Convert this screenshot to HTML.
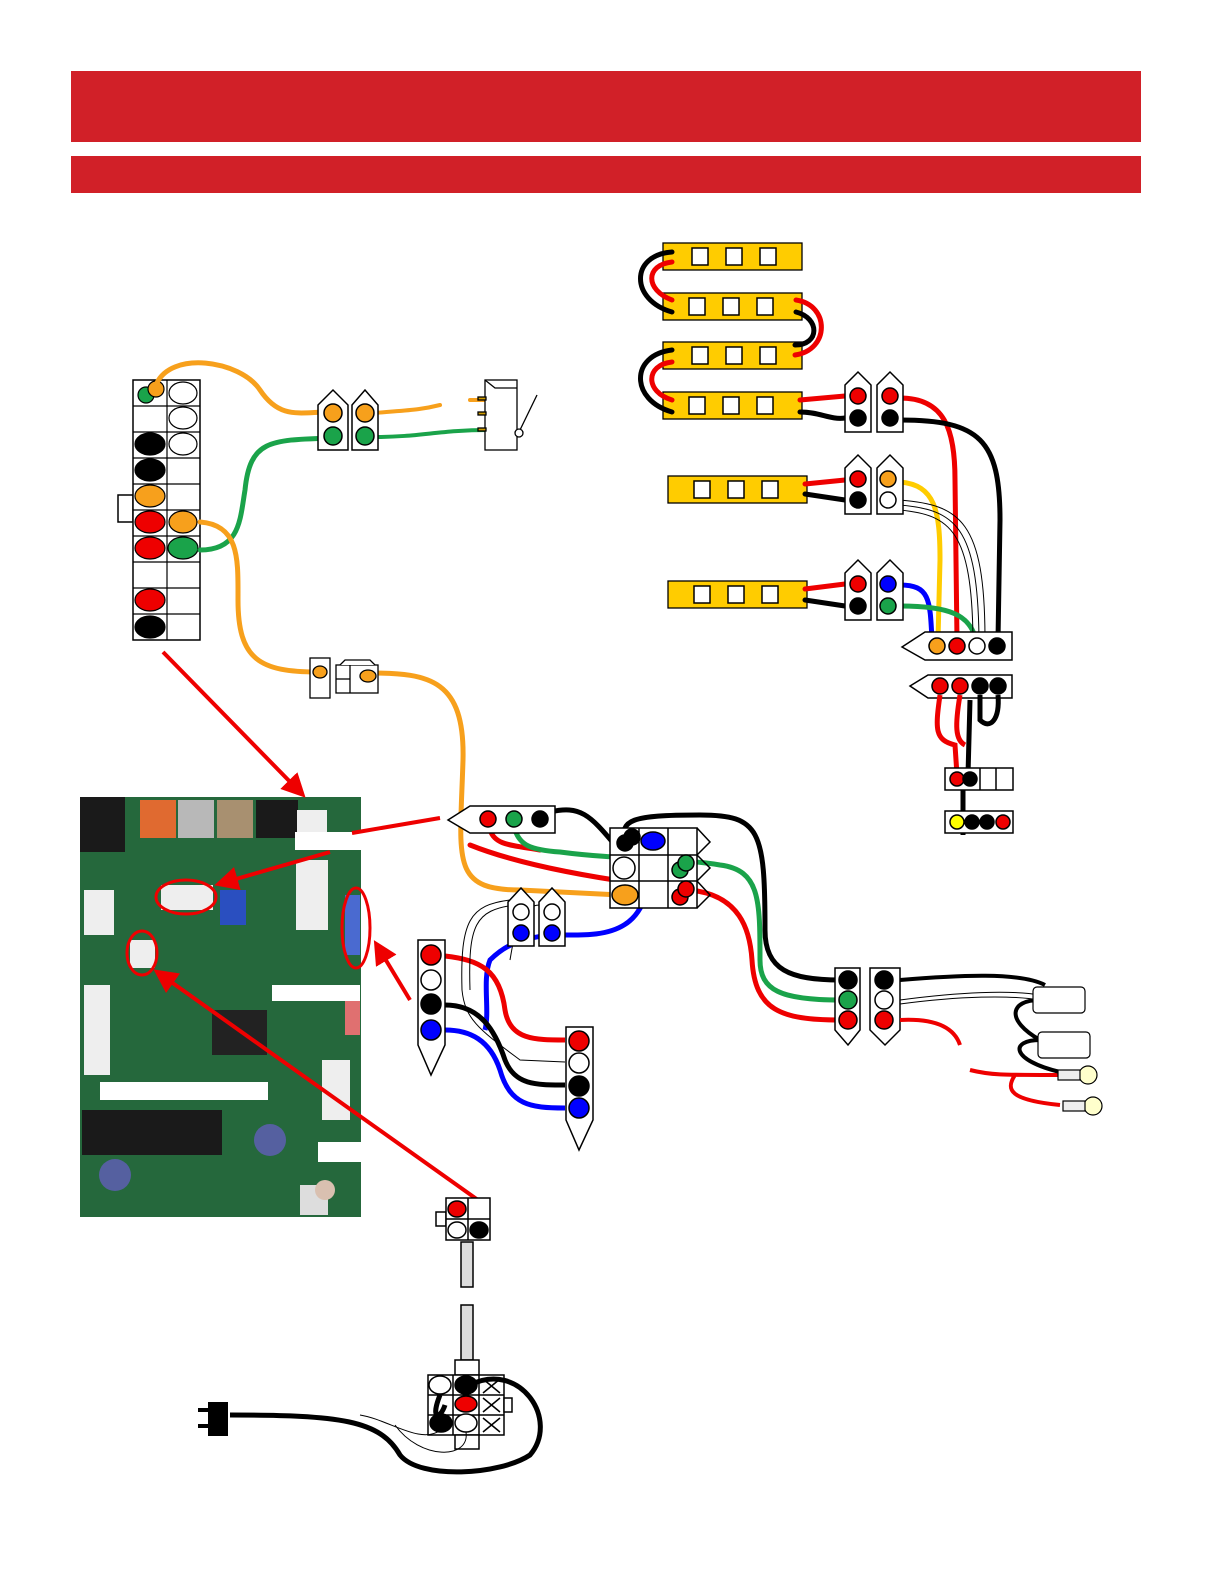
<!DOCTYPE html>
<html><head><meta charset="utf-8"><style>body{margin:0;background:#fff}svg{display:block}</style></head><body>
<svg width="1224" height="1584" viewBox="0 0 1224 1584" xmlns="http://www.w3.org/2000/svg">
<defs><marker id="ah" markerWidth="6" markerHeight="6" refX="4" refY="3" orient="auto" markerUnits="strokeWidth"><path d="M0,0 L6,3 L0,6Z" fill="#e00"/></marker></defs>
<rect x="71" y="71" width="1070" height="71" fill="#d12028"/>
<rect x="71" y="156" width="1070" height="37" fill="#d12028"/>

<!-- PCB -->
<rect x="80" y="797" width="281" height="420" fill="#25683c"/>
<rect x="80" y="797" width="45" height="55" fill="#1a1a1a"/>
<rect x="140" y="800" width="36" height="38" fill="#e06a30"/>
<rect x="178" y="800" width="36" height="38" fill="#b8b8b8"/>
<rect x="217" y="800" width="36" height="38" fill="#a89070"/>
<rect x="256" y="800" width="42" height="38" fill="#1a1a1a"/>
<rect x="297" y="810" width="30" height="30" fill="#eee"/>
<rect x="296" y="860" width="32" height="70" fill="#eee"/>
<rect x="84" y="890" width="30" height="45" fill="#eee"/>
<rect x="84" y="985" width="26" height="90" fill="#eee"/>
<rect x="322" y="1060" width="28" height="60" fill="#eee"/>
<rect x="220" y="890" width="26" height="35" fill="#2a4fc0"/>
<rect x="345" y="895" width="15" height="60" fill="#4a6ad0"/>
<rect x="345" y="995" width="15" height="40" fill="#e07070"/>
<rect x="212" y="1010" width="55" height="45" fill="#222"/>
<rect x="82" y="1110" width="140" height="45" fill="#1a1a1a"/>
<circle cx="115" cy="1175" r="16" fill="#5560a0"/>
<circle cx="270" cy="1140" r="16" fill="#5560a0"/>
<rect x="300" y="1185" width="28" height="30" fill="#ddd"/>
<circle cx="325" cy="1190" r="10" fill="#d9c0b0"/>
<rect x="161" y="885" width="52" height="25" fill="#eee"/>
<rect x="130" y="940" width="25" height="28" fill="#eee"/>
<rect x="295" y="832" width="70" height="18" fill="#fff"/>
<rect x="272" y="985" width="88" height="16" fill="#fff"/>
<rect x="100" y="1082" width="168" height="18" fill="#fff"/>
<rect x="318" y="1142" width="43" height="20" fill="#fff"/>
<g fill="none" stroke="#e00" stroke-width="3">
<ellipse cx="186" cy="897" rx="30" ry="17"/><ellipse cx="142" cy="953" rx="15" ry="22"/><ellipse cx="356" cy="928" rx="14" ry="40"/>
</g>
<g stroke="#e00" stroke-width="4" fill="none">
<line x1="163" y1="652" x2="300" y2="792" marker-end="url(#ah)"/>
<line x1="352" y1="833" x2="440" y2="818"/>
<line x1="330" y1="852" x2="222" y2="883" marker-end="url(#ah)"/>
<line x1="410" y1="1000" x2="378" y2="947" marker-end="url(#ah)"/>
<line x1="485" y1="1205" x2="160" y2="974" marker-end="url(#ah)"/>
</g>

<!-- left connector -->
<g stroke="#000" stroke-width="1.5" fill="#fff">
<rect x="118" y="495" width="15" height="27"/>
<rect x="133" y="380" width="67" height="260"/>
</g>
<g stroke="#000" stroke-width="1.2">
<line x1="167" y1="380" x2="167" y2="640"/>
<line x1="133" y1="406" x2="200" y2="406"/><line x1="133" y1="432" x2="200" y2="432"/><line x1="133" y1="458" x2="200" y2="458"/><line x1="133" y1="484" x2="200" y2="484"/><line x1="133" y1="510" x2="200" y2="510"/><line x1="133" y1="536" x2="200" y2="536"/><line x1="133" y1="562" x2="200" y2="562"/><line x1="133" y1="588" x2="200" y2="588"/><line x1="133" y1="614" x2="200" y2="614"/>
</g>
<g stroke="#000" stroke-width="1.2">
<ellipse cx="183" cy="393" rx="14" ry="11" fill="#fff"/><ellipse cx="183" cy="418" rx="14" ry="11" fill="#fff"/><ellipse cx="183" cy="444" rx="14" ry="11" fill="#fff"/>
<ellipse cx="150" cy="444" rx="15" ry="11" fill="#000"/><ellipse cx="150" cy="470" rx="15" ry="11" fill="#000"/>
<ellipse cx="150" cy="496" rx="15" ry="11" fill="#f7a01c"/><ellipse cx="150" cy="522" rx="15" ry="11" fill="#e00"/><ellipse cx="183" cy="522" rx="14" ry="11" fill="#f7a01c"/>
<ellipse cx="150" cy="548" rx="15" ry="11" fill="#e00"/><ellipse cx="183" cy="548" rx="15" ry="11" fill="#1aa34a"/>
<ellipse cx="150" cy="600" rx="15" ry="11" fill="#e00"/><ellipse cx="150" cy="627" rx="15" ry="11" fill="#000"/>
<circle cx="146" cy="395" r="8" fill="#1aa34a"/><circle cx="156" cy="389" r="8" fill="#f7a01c"/>
</g>

<!-- wires left -->
<g fill="none" stroke-width="5" stroke-linecap="round">
<path d="M156 385 C170 350 240 360 260 390 C280 420 300 412 330 412" stroke="#f7a01c"/>
<path d="M200 550 C240 550 240 520 245 490 C250 440 270 440 330 438" stroke="#1aa34a"/>
<path d="M200 522 C240 525 238 560 238 600 C238 660 260 672 318 672" stroke="#f7a01c"/>
<path d="M370 673 C430 673 465 680 463 760 C460 860 450 890 520 890 L620 895" stroke="#f7a01c"/>
<path d="M375 413 C410 410 420 410 440 405 M470 400 L488 400" stroke="#f7a01c" stroke-width="4"/>
<path d="M375 437 C420 437 440 430 488 430" stroke="#1aa34a" stroke-width="4"/>
</g>
<g stroke="#000" stroke-width="1.5">
<path d="M318 405 L333 390 L348 405 L348 450 L318 450Z" fill="#fff"/>
<path d="M352 405 L365 390 L378 405 L378 450 L352 450Z" fill="#fff"/>
<circle cx="333" cy="413" r="9" fill="#f7a01c"/><circle cx="333" cy="436" r="9" fill="#1aa34a"/>
<circle cx="365" cy="413" r="9" fill="#f7a01c"/><circle cx="365" cy="436" r="9" fill="#1aa34a"/>
</g>
<g stroke="#000" stroke-width="1.3" fill="#fff">
<rect x="485" y="380" width="32" height="70"/><path d="M485 380 L495 388 L517 388"/>
<line x1="520" y1="430" x2="537" y2="395"/><circle cx="519" cy="433" r="4"/>
<rect x="478" y="397" width="8" height="3" fill="#c90"/><rect x="478" y="412" width="8" height="3" fill="#c90"/><rect x="478" y="428" width="8" height="3" fill="#c90"/>
</g>
<g stroke="#000" stroke-width="1.3" fill="#fff">
<rect x="310" y="658" width="20" height="40"/><rect x="336" y="665" width="42" height="28"/><path d="M340 665 L345 660 L370 660 L375 665"/>
<line x1="350" y1="665" x2="350" y2="693"/><line x1="336" y1="679" x2="350" y2="679"/>
<ellipse cx="320" cy="672" rx="7" ry="6" fill="#f7a01c"/><ellipse cx="368" cy="676" rx="8" ry="6" fill="#f7a01c"/>
</g>

<!-- LED strips -->
<g stroke="#000" stroke-width="1.3">
<rect x="663" y="243" width="139" height="27" fill="#fc0"/>
<rect x="663" y="293" width="139" height="27" fill="#fc0"/>
<rect x="663" y="342" width="139" height="27" fill="#fc0"/>
<rect x="663" y="392" width="139" height="27" fill="#fc0"/>
<rect x="668" y="476" width="139" height="27" fill="#fc0"/>
<rect x="668" y="581" width="139" height="27" fill="#fc0"/>
</g>
<g stroke="#000" stroke-width="1.5" fill="#fff">
<rect x="692" y="248" width="16" height="17"/><rect x="726" y="248" width="16" height="17"/><rect x="760" y="248" width="16" height="17"/>
<rect x="689" y="298" width="16" height="17"/><rect x="723" y="298" width="16" height="17"/><rect x="757" y="298" width="16" height="17"/>
<rect x="692" y="347" width="16" height="17"/><rect x="726" y="347" width="16" height="17"/><rect x="760" y="347" width="16" height="17"/>
<rect x="689" y="397" width="16" height="17"/><rect x="723" y="397" width="16" height="17"/><rect x="757" y="397" width="16" height="17"/>
<rect x="694" y="481" width="16" height="17"/><rect x="728" y="481" width="16" height="17"/><rect x="762" y="481" width="16" height="17"/>
<rect x="694" y="586" width="16" height="17"/><rect x="728" y="586" width="16" height="17"/><rect x="762" y="586" width="16" height="17"/>
</g>
<g fill="none" stroke-width="5" stroke-linecap="round">
<path d="M672 252 C630 255 630 300 672 312" stroke="#000"/>
<path d="M672 262 C645 265 645 290 672 300" stroke="#e00"/>
<path d="M796 300 C830 305 830 350 795 355" stroke="#e00"/>
<path d="M796 312 C820 318 820 345 795 345" stroke="#000"/>
<path d="M672 350 C630 355 630 400 672 412" stroke="#000"/>
<path d="M672 362 C645 365 645 392 672 400" stroke="#e00"/>
<path d="M800 400 L845 396" stroke="#e00"/><path d="M800 412 C820 412 830 420 845 418" stroke="#000"/>
<path d="M805 484 L845 480" stroke="#e00"/><path d="M805 494 L845 500" stroke="#000"/>
<path d="M805 589 L845 584" stroke="#e00"/><path d="M805 600 L845 606" stroke="#000"/>
<path d="M900 398 C945 398 955 430 955 480 L957 640" stroke="#e00"/>
<path d="M900 420 C980 420 1000 440 1000 520 L998 640" stroke="#000"/>
<path d="M900 482 C935 485 940 510 940 560 L938 640" stroke="#fc0"/>
<path d="M900 585 C930 585 930 600 932 640" stroke="#00f"/>
<path d="M900 606 C950 606 970 615 976 640" stroke="#1aa34a"/>
</g>
<g fill="none" stroke="#000" stroke-width="1" >
<path d="M900 500 C960 505 985 520 985 640"/><path d="M900 505 C955 510 978 525 979 640"/><path d="M900 510 C950 515 972 530 973 640"/>
</g>
<g stroke="#000" stroke-width="1.5">
<path d="M845 385 L858 372 L871 385 L871 432 L845 432Z" fill="#fff"/><path d="M877 385 L890 372 L903 385 L903 432 L877 432Z" fill="#fff"/>
<circle cx="858" cy="396" r="8" fill="#e00"/><circle cx="858" cy="418" r="8" fill="#000"/><circle cx="890" cy="396" r="8" fill="#e00"/><circle cx="890" cy="418" r="8" fill="#000"/>
<path d="M845 468 L858 455 L871 468 L871 514 L845 514Z" fill="#fff"/><path d="M877 468 L890 455 L903 468 L903 514 L877 514Z" fill="#fff"/>
<circle cx="858" cy="479" r="8" fill="#e00"/><circle cx="858" cy="500" r="8" fill="#000"/><circle cx="888" cy="479" r="8" fill="#f7a01c"/><circle cx="888" cy="500" r="8" fill="#fff"/>
<path d="M845 573 L858 560 L871 573 L871 620 L845 620Z" fill="#fff"/><path d="M877 573 L890 560 L903 573 L903 620 L877 620Z" fill="#fff"/>
<circle cx="858" cy="584" r="8" fill="#e00"/><circle cx="858" cy="606" r="8" fill="#000"/><circle cx="888" cy="584" r="8" fill="#00f"/><circle cx="888" cy="606" r="8" fill="#1aa34a"/>
<path d="M902 647 L925 632 L1012 632 L1012 660 L925 660Z" fill="#fff"/>
<circle cx="937" cy="646" r="8" fill="#f7a01c"/><circle cx="957" cy="646" r="8" fill="#e00"/><circle cx="977" cy="646" r="8" fill="#fff"/><circle cx="997" cy="646" r="8" fill="#000"/>
<path d="M910 686 L928 675 L1012 675 L1012 698 L928 698Z" fill="#fff"/>
<circle cx="940" cy="686" r="8" fill="#e00"/><circle cx="960" cy="686" r="8" fill="#e00"/><circle cx="980" cy="686" r="8" fill="#000"/><circle cx="998" cy="686" r="8" fill="#000"/>
</g>
<g fill="none" stroke-width="5">
<path d="M940 695 C935 730 935 740 955 745 L957 775" stroke="#e00"/>
<path d="M960 695 C955 725 955 740 965 745" stroke="#e00"/>
<path d="M980 695 L980 720 C990 730 1000 720 998 695" stroke="#000"/>
<path d="M970 700 L968 775 M963 790 L963 835" stroke="#000"/>
</g>
<g stroke="#000" stroke-width="1.5">
<rect x="945" y="768" width="68" height="22" fill="#fff"/><circle cx="957" cy="779" r="7" fill="#e00"/><circle cx="970" cy="779" r="7" fill="#000"/>
<line x1="980" y1="768" x2="980" y2="790"/><line x1="996" y1="768" x2="996" y2="790"/>
<rect x="945" y="811" width="68" height="22" fill="#fff"/><circle cx="957" cy="822" r="7" fill="#ff0"/><circle cx="972" cy="822" r="7" fill="#000"/><circle cx="987" cy="822" r="7" fill="#000"/><circle cx="1003" cy="822" r="7" fill="#e00"/>
</g>

<!-- center harness -->
<g fill="none" stroke-width="5" stroke-linecap="round">
<path d="M550 812 C580 805 590 815 615 845" stroke="#000"/>
<path d="M490 830 C495 845 510 845 540 850" stroke="#e00"/>
<path d="M515 830 C520 845 530 850 560 852 C620 860 680 858 720 865 C760 870 760 900 760 960 C760 990 780 1000 840 1000" stroke="#1aa34a"/>
<path d="M470 845 C520 865 600 880 690 890 C740 895 750 930 752 960 C755 1010 780 1020 840 1020" stroke="#e00"/>
<path d="M625 842 C620 820 630 815 700 815 C760 815 765 830 765 930 C765 970 790 980 840 980" stroke="#000"/>
<path d="M650 850 C655 940 600 935 560 935" stroke="#00f"/>
</g>
<g stroke="#000" stroke-width="1.5">
<path d="M448 820 L470 806 L555 806 L555 833 L470 833Z" fill="#fff"/>
<circle cx="488" cy="819" r="8" fill="#e00"/><circle cx="514" cy="819" r="8" fill="#1aa34a"/><circle cx="540" cy="819" r="8" fill="#000"/>
<rect x="610" y="828" width="87" height="80" fill="#fff"/>
<line x1="639" y1="828" x2="639" y2="908"/><line x1="668" y1="828" x2="668" y2="908"/><line x1="610" y1="855" x2="697" y2="855"/><line x1="610" y1="881" x2="697" y2="881"/>
<path d="M697 828 L710 842 L697 855 M697 855 L710 868 L697 881 M697 881 L710 895 L697 908" fill="none"/>
<circle cx="625" cy="843" r="8" fill="#000"/><circle cx="632" cy="837" r="8" fill="#000"/>
<ellipse cx="653" cy="841" rx="12" ry="9" fill="#00f"/>
<circle cx="624" cy="868" r="11" fill="#fff"/><circle cx="680" cy="870" r="8" fill="#1aa34a"/><circle cx="686" cy="863" r="8" fill="#1aa34a"/>
<ellipse cx="625" cy="895" rx="13" ry="10" fill="#f7a01c"/><circle cx="680" cy="897" r="8" fill="#e00"/><circle cx="686" cy="889" r="8" fill="#e00"/>
</g>
<g fill="none" stroke-width="5">
<path d="M560 933 C540 938 515 935 490 960 C482 980 490 1010 485 1030" stroke="#00f"/>
<path d="M445 1030 C470 1030 490 1040 500 1070 C510 1105 530 1108 565 1108" stroke="#00f"/>
<path d="M445 1005 C480 1005 495 1030 505 1060 C515 1085 535 1085 565 1085" stroke="#000"/>
<path d="M445 956 C480 960 500 970 505 1010 C510 1040 535 1040 565 1040" stroke="#e00"/>
</g>
<g fill="none" stroke="#000" stroke-width="1">
<path d="M510 900 C470 905 460 920 462 990 C465 1020 480 1030 520 1060 L565 1062"/><path d="M515 905 C475 910 468 925 470 990"/>
<path d="M540 905 C520 905 515 930 510 960"/>
</g>
<g stroke="#000" stroke-width="1.5">
<path d="M508 902 L521 888 L534 902 L534 946 L508 946Z" fill="#fff"/><path d="M539 902 L552 888 L565 902 L565 946 L539 946Z" fill="#fff"/>
<circle cx="521" cy="912" r="8" fill="#fff"/><circle cx="521" cy="933" r="8" fill="#00f"/><circle cx="552" cy="912" r="8" fill="#fff"/><circle cx="552" cy="933" r="8" fill="#00f"/>
<path d="M418 940 L445 940 L445 1045 L431 1075 L418 1045Z" fill="#fff"/>
<circle cx="431" cy="955" r="10" fill="#e00"/><circle cx="431" cy="980" r="10" fill="#fff"/><circle cx="431" cy="1004" r="10" fill="#000"/><circle cx="431" cy="1030" r="10" fill="#00f"/>
<path d="M566 1027 L593 1027 L593 1120 L579 1150 L566 1120Z" fill="#fff"/>
<circle cx="579" cy="1041" r="10" fill="#e00"/><circle cx="579" cy="1063" r="10" fill="#fff"/><circle cx="579" cy="1086" r="10" fill="#000"/><circle cx="579" cy="1108" r="10" fill="#00f"/>
<path d="M835 968 L860 968 L860 1030 L848 1045 L835 1030Z" fill="#fff"/><path d="M870 968 L900 968 L900 1030 L885 1045 L870 1030Z" fill="#fff"/>
<circle cx="848" cy="980" r="9" fill="#000"/><circle cx="848" cy="1000" r="9" fill="#1aa34a"/><circle cx="848" cy="1020" r="9" fill="#e00"/>
<circle cx="884" cy="980" r="9" fill="#000"/><circle cx="884" cy="1000" r="9" fill="#fff"/><circle cx="884" cy="1020" r="9" fill="#e00"/>
</g>
<g fill="none" stroke-width="4">
<path d="M900 980 C960 975 1020 972 1045 985" stroke="#000"/>
<path d="M900 1020 C940 1018 955 1030 960 1045" stroke="#e00"/>
<path d="M970 1070 C990 1075 1000 1075 1060 1075 M1015 1075 C1005 1090 1010 1100 1060 1105" stroke="#e00"/>
<path d="M1040 1000 C1010 1000 1005 1020 1040 1040 C1010 1040 1010 1060 1060 1072" stroke="#000"/>
</g>
<g fill="none" stroke="#000" stroke-width="1"><path d="M900 1000 C960 992 1010 990 1040 995"/><path d="M900 1004 C960 996 1010 995 1040 1000"/></g>
<g stroke="#000" stroke-width="1.2">
<rect x="1033" y="987" width="52" height="26" rx="4" fill="#fff"/><rect x="1038" y="1032" width="52" height="26" rx="4" fill="#fff"/>
<circle cx="1088" cy="1075" r="9" fill="#ffffcc"/><rect x="1058" y="1070" width="22" height="10" fill="#eee"/>
<circle cx="1093" cy="1106" r="9" fill="#ffffcc"/><rect x="1063" y="1101" width="22" height="10" fill="#eee"/>
</g>

<!-- bottom power -->
<g stroke="#000" stroke-width="1.5">
<rect x="436" y="1212" width="10" height="14" fill="#fff"/>
<rect x="446" y="1198" width="44" height="42" fill="#fff"/><line x1="468" y1="1198" x2="468" y2="1240"/><line x1="446" y1="1219" x2="490" y2="1219"/>
<ellipse cx="457" cy="1209" rx="9" ry="8" fill="#e00"/><ellipse cx="457" cy="1230" rx="9" ry="8" fill="#fff"/><ellipse cx="479" cy="1230" rx="9" ry="8" fill="#000"/>
<rect x="461" y="1242" width="12" height="45" fill="#ddd"/><rect x="461" y="1305" width="12" height="55" fill="#ddd"/>
<rect x="455" y="1360" width="24" height="15" fill="#fff"/>
<rect x="428" y="1375" width="76" height="60" fill="#fff"/>
<line x1="453" y1="1375" x2="453" y2="1435"/><line x1="479" y1="1375" x2="479" y2="1435"/><line x1="428" y1="1395" x2="504" y2="1395"/><line x1="428" y1="1415" x2="504" y2="1415"/>
<rect x="455" y="1435" width="24" height="14" fill="#fff"/><rect x="504" y="1398" width="8" height="14" fill="#fff"/>
<ellipse cx="440" cy="1385" rx="11" ry="9" fill="#fff"/><ellipse cx="466" cy="1385" rx="11" ry="9" fill="#000"/>
<ellipse cx="466" cy="1404" rx="11" ry="8" fill="#e00"/><ellipse cx="441" cy="1423" rx="11" ry="9" fill="#000"/><ellipse cx="466" cy="1423" rx="11" ry="9" fill="#fff"/>
<path d="M483 1379 L500 1393 M500 1379 L483 1393 M483 1398 L500 1412 M500 1398 L483 1412 M483 1418 L500 1432 M500 1418 L483 1432" fill="none"/>
</g>
<g fill="none" stroke-width="5">
<path d="M470 1385 C520 1360 560 1420 530 1455 C500 1475 420 1480 400 1455 C380 1420 340 1415 230 1415" stroke="#000"/>
<path d="M440 1395 C430 1420 440 1420 445 1405" stroke="#000"/>
</g>
<g fill="none" stroke="#000" stroke-width="1"><path d="M441 1430 C420 1445 390 1420 360 1415"/><path d="M466 1432 C470 1460 420 1460 395 1425"/></g>
<rect x="208" y="1402" width="20" height="34" fill="#000"/><rect x="198" y="1408" width="10" height="4" fill="#000"/><rect x="198" y="1424" width="10" height="4" fill="#000"/>
</svg>
</body></html>
